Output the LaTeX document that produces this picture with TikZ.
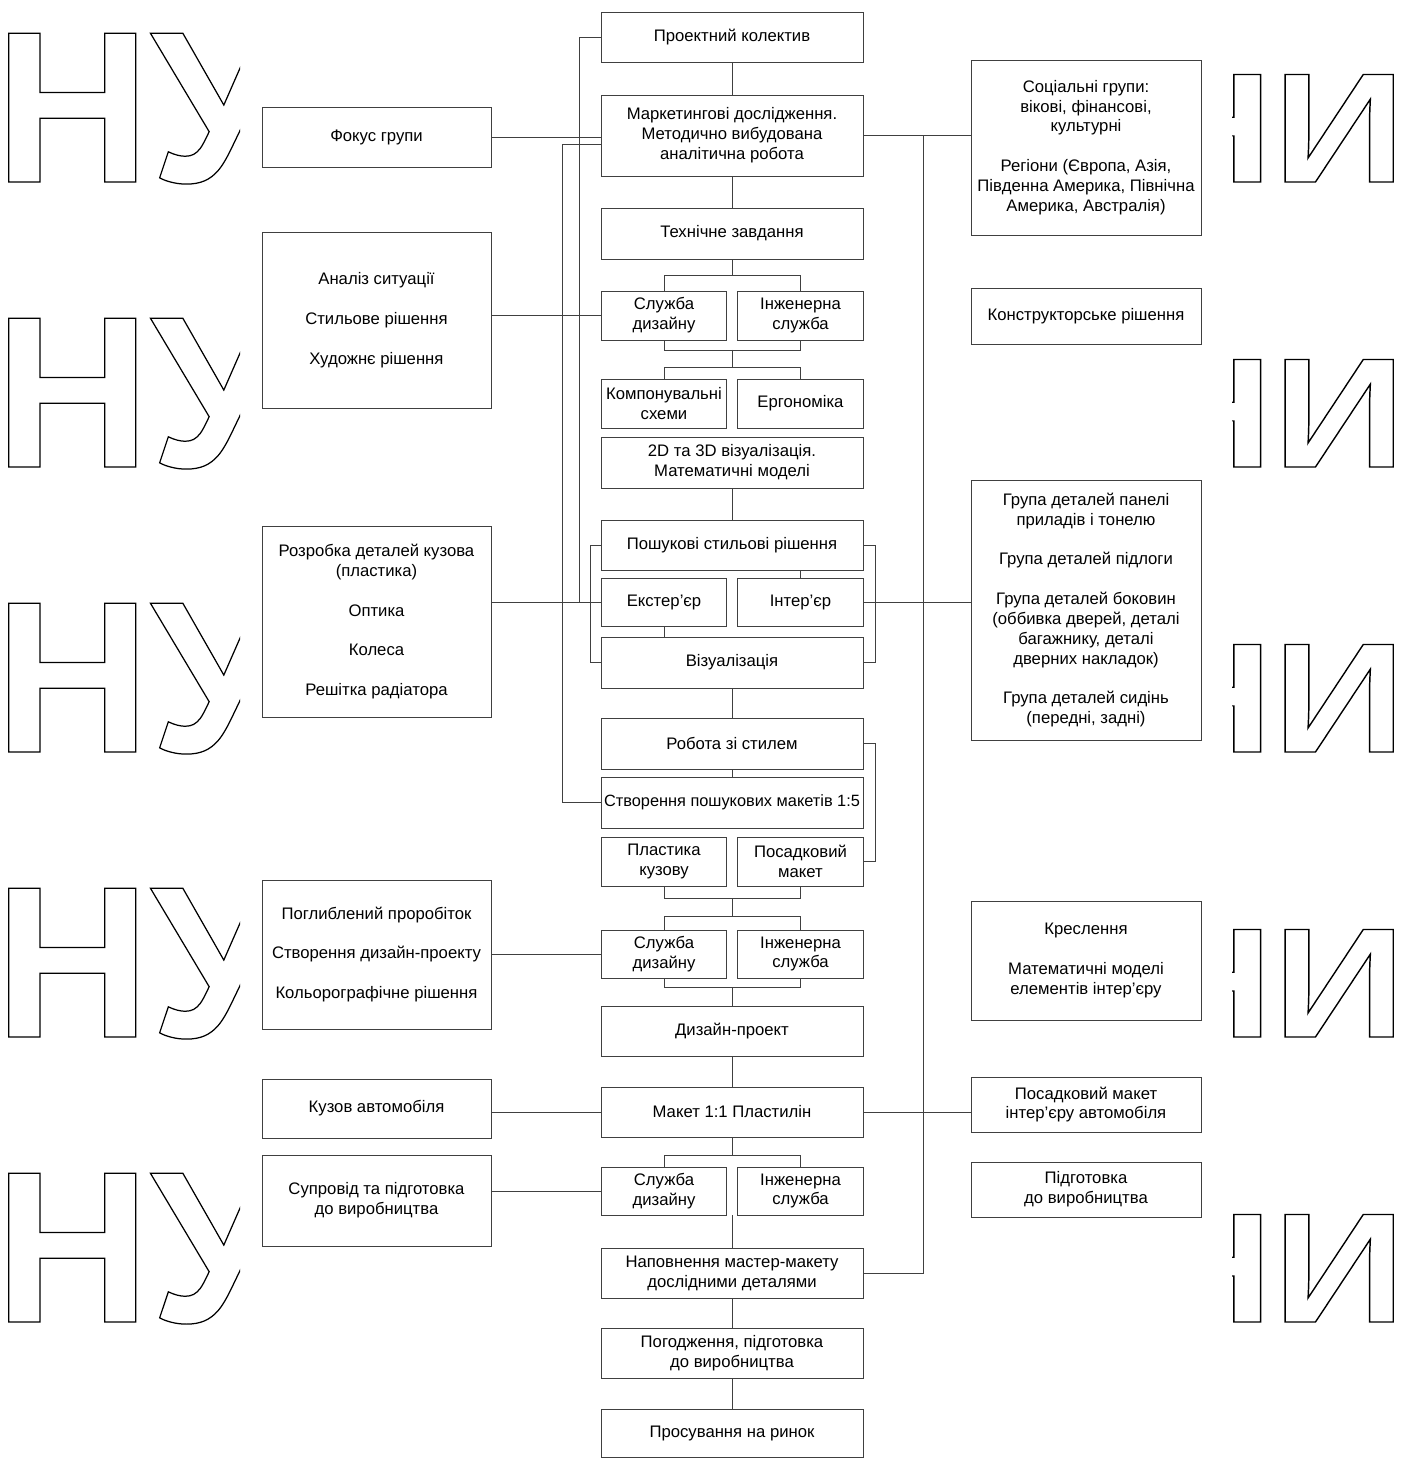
\documentclass[tikz,border=0pt]{standalone}
\usepackage{fontspec}
\setmainfont{Liberation Sans}
\usepackage{tikz}
\usetikzlibrary{calc}

\newcommand\itemgap{\\[11.3pt]}
\newcommand\hollow[1]{\special{pdf:literal direct 1 Tr 0.7 w}#1\special{pdf:literal direct 0 Tr}}

\begin{document}
\begin{tikzpicture}[x=0.02cm, y=-0.02cm,
    box/.style={draw=black!75, line width=0.5pt, align=center, inner sep=2pt,
      font=\fontsize{9.5}{11.3}\selectfont, minimum width=5.24cm},
    halfbox/.style={box, minimum width=2.51cm},
    sidebox/.style={box, inner sep=1pt, minimum width=4.58cm},
    link/.style={draw=black!75, line width=0.5pt},
    wmark/.style={inner sep=0pt, font=\fontsize{123}{123}\selectfont\bfseries}]
  \useasboundingbox (0,0) rectangle (1406,1459);

  % watermark letters
  \begin{scope}
    \clip (0,0) rectangle (240,1459);
    \foreach \k in {0,...,4}
      \node[wmark, anchor=base west] (nu\k) at (-6,182+285*\k) {\hollow{НУ}};
  \end{scope}
  \begin{scope}
    \clip (1232,0) rectangle (1406,1459);
    \foreach \k in {0,...,4}
      \node[wmark, anchor=base east, font=\fontsize{89}{89}\selectfont\bfseries, xscale=1.18] (ny\k) at (1406,182+285*\k) {\hollow{НИ}};
  \end{scope}

  % main column
  \node[box, minimum height=1cm] (team) at (732,37) {Проектний колектив};
  \node[box, minimum height=1.62cm] (market) at (732,135.5) {Маркетингові дослідження.\\Методично вибудована\\аналітична робота};
  \node[box, minimum height=1.02cm] (task) at (732,233.5) {Технічне завдання};
  \node[halfbox, minimum height=0.98cm] (sd1) at (664,315.5) {Служба\\дизайну};
  \node[halfbox, minimum height=0.98cm] (eng1) at (800.5,315.5) {Інженерна\\служба};
  \node[halfbox, minimum height=0.98cm] (comp) at (664,403.5) {Компонувальні\\схеми};
  \node[halfbox, minimum height=0.98cm] (ergo) at (800.5,403.5) {Ергономіка};
  \node[box, minimum height=1.02cm] (viz2d) at (732,462.5) {2D та 3D візуалізація.\\Математичні моделі};
  \node[box, minimum height=1cm] (search) at (732,545) {Пошукові стильові рішення};
  \node[halfbox, minimum height=0.96cm] (ext) at (664,602) {Екстер’єр};
  \node[halfbox, minimum height=0.96cm] (inter) at (800.5,602) {Інтер’єр};
  \node[box, minimum height=1.02cm] (vis) at (732,662.5) {Візуалізація};
  \node[box, minimum height=1.02cm] (style) at (732,743.5) {Робота зі стилем};
  \node[box, inner xsep=0pt, font=\fontsize{9.3}{11.3}\selectfont, minimum height=1.02cm] (probe) at (732,802.5) {Створення пошукових макетів 1:5};
  \node[halfbox, minimum height=0.98cm] (plast) at (664,861.5) {Пластика\\кузову};
  \node[halfbox, minimum height=0.98cm] (seatm) at (800.5,861.5) {Посадковий\\макет};
  \node[halfbox, minimum height=0.96cm] (sd2) at (664,954) {Служба\\дизайну};
  \node[halfbox, minimum height=0.96cm] (eng2) at (800.5,954) {Інженерна\\служба};
  \node[box, minimum height=1cm] (project) at (732,1031) {Дизайн-проект};
  \node[box, minimum height=1cm] (maket) at (732,1112) {Макет 1:1 Пластилін};
  \node[halfbox, minimum height=0.96cm] (sd3) at (664,1191) {Служба\\дизайну};
  \node[halfbox, minimum height=0.96cm] (eng3) at (800.5,1191) {Інженерна\\служба};
  \node[box, minimum height=1cm] (fill) at (732,1273) {Наповнення мастер-макету\\дослідними деталями};
  \node[box, minimum height=1cm] (agree) at (732,1353) {Погодження, підготовка\\до виробництва};
  \node[box, minimum height=0.96cm] (promo) at (732,1433) {Просування на ринок};

  % left column
  \node[sidebox, minimum height=1.2cm] (focus) at (376.5,137) {Фокус групи};
  \node[sidebox, minimum height=3.52cm] (analysis) at (376.5,320) {Аналіз ситуації\itemgap Стильове рішення\itemgap Художнє рішення};
  \node[sidebox, minimum height=3.82cm] (bodyparts) at (376.5,621.5) {Розробка деталей кузова\\(пластика)\itemgap Оптика\itemgap Колеса\itemgap Решітка радіатора};
  \node[sidebox, minimum height=2.98cm] (deep) at (376.5,954.5) {Поглиблений проробіток\itemgap Створення дизайн-проекту\itemgap Кольорографічне рішення};
  \node[sidebox, minimum height=1.18cm] (kuzov) at (376.5,1108.5) {Кузов автомобіля};
  \node[sidebox, minimum height=1.82cm] (support) at (376.5,1200.5) {Супровід та підготовка\\до виробництва};

  % right column
  \node[sidebox, minimum width=4.6cm, minimum height=3.5cm] (social) at (1086,147.5) {Соціальні групи:\\вікові, фінансові,\\культурні\itemgap Регіони (Європа, Азія,\\Південна Америка, Північна\\Америка, Австралія)};
  \node[sidebox, minimum width=4.6cm, minimum height=1.12cm] (constr) at (1086,316) {Конструкторське рішення};
  \node[sidebox, minimum width=4.6cm, minimum height=5.2cm] (groups) at (1086,610) {Група деталей панелі\\приладів і тонелю\itemgap Група деталей підлоги\itemgap Група деталей боковин\\(оббивка дверей, деталі\\багажнику, деталі\\дверних накладок)\itemgap Група деталей сидінь\\(передні, задні)};
  \node[sidebox, minimum width=4.6cm, minimum height=2.38cm] (drawings) at (1086,960.5) {Креслення\itemgap Математичні моделі\\елементів інтер’єру};
  \node[sidebox, minimum width=4.6cm, minimum height=1.1cm] (seatint) at (1086,1104.5) {Посадковий макет\\інтер’єру автомобіля};
  \node[sidebox, minimum width=4.6cm, minimum height=1.1cm] (prep) at (1086,1189.5) {Підготовка\\до виробництва};

  % junctions and buses
  \coordinate (j1) at (732,275);
  \coordinate (j2) at (732,350);
  \coordinate (j3) at (732,367);
  \coordinate (j4) at (732,898);
  \coordinate (j5) at (732,916);
  \coordinate (j6) at (732,987);
  \coordinate (j7) at (732,1155);
  \coordinate (busA) at (579,0);
  \coordinate (busB) at (562,0);
  \coordinate (busR) at (923,0);

  % spine
  \draw[link] (team.south) -- (market.north);
  \draw[link] (market.south) -- (task.north);
  \draw[link] (task.south) -- (j1);
  \draw[link] (sd1.north) -- (sd1.north |- j1) -- (eng1.north |- j1) -- (eng1.north);
  \draw[link] (sd1.south) -- (sd1.south |- j2) -- (eng1.south |- j2) -- (eng1.south);
  \draw[link] (j2) -- (j3);
  \draw[link] (comp.north) -- (comp.north |- j3) -- (ergo.north |- j3) -- (ergo.north);
  \draw[link] (viz2d.south) -- (search.north);
  \draw[link] (search.south -| inter.north) -- (inter.north);
  \draw[link] (ext.south) -- (ext.south |- vis.north);
  \draw[link] (vis.south) -- (style.north);
  \draw[link] (style.south) -- (probe.north);
  \draw[link] (plast.south) -- (plast.south |- j4) -- (seatm.south |- j4) -- (seatm.south);
  \draw[link] (j4) -- (j5);
  \draw[link] (sd2.north) -- (sd2.north |- j5) -- (eng2.north |- j5) -- (eng2.north);
  \draw[link] (sd2.south) -- (sd2.south |- j6) -- (eng2.south |- j6) -- (eng2.south);
  \draw[link] (j6) -- (project.north);
  \draw[link] (project.south) -- (maket.north);
  \draw[link] (maket.south) -- (j7);
  \draw[link] (sd3.north) -- (sd3.north |- j7) -- (eng3.north |- j7) -- (eng3.north);
  \draw[link] (fill.north |- sd3.south) -- (fill.north);
  \draw[link] (fill.south) -- (agree.north);
  \draw[link] (agree.south) -- (promo.north);

  % brackets
  \draw[link] (search.west) -- ++(-10,0) |- (vis.west);
  \draw[link] (search.east) -- ++(12,0) |- (vis.east);
  \draw[link] (style.east) -- ++(12,0) |- (seatm.east);

  % buses
  \draw[link] (team.west) -| (busA |- ext.west) -- (ext.west);
  \draw[link] ([yshift=-0.17cm]market.west) -| (busB |- probe.west) -- (probe.west);
  \draw[link] (market.east -| busR) |- (fill.east);

  % side links
  \draw[link] (focus.east) -- (focus.east -| market.west);
  \draw[link] (analysis.east |- sd1.west) -- (sd1.west);
  \draw[link] (bodyparts.east |- ext.west) -- (ext.west);
  \draw[link] (deep.east |- sd2.west) -- (sd2.west);
  \draw[link] (kuzov.east |- maket.west) -- (maket.west);
  \draw[link] (support.east |- sd3.west) -- (sd3.west);
  \draw[link] (market.east) -- (market.east -| social.west);
  \draw[link] (inter.east) -- (inter.east -| groups.west);
  \draw[link] (maket.east) -- (maket.east -| seatint.west);
\end{tikzpicture}
\end{document}
